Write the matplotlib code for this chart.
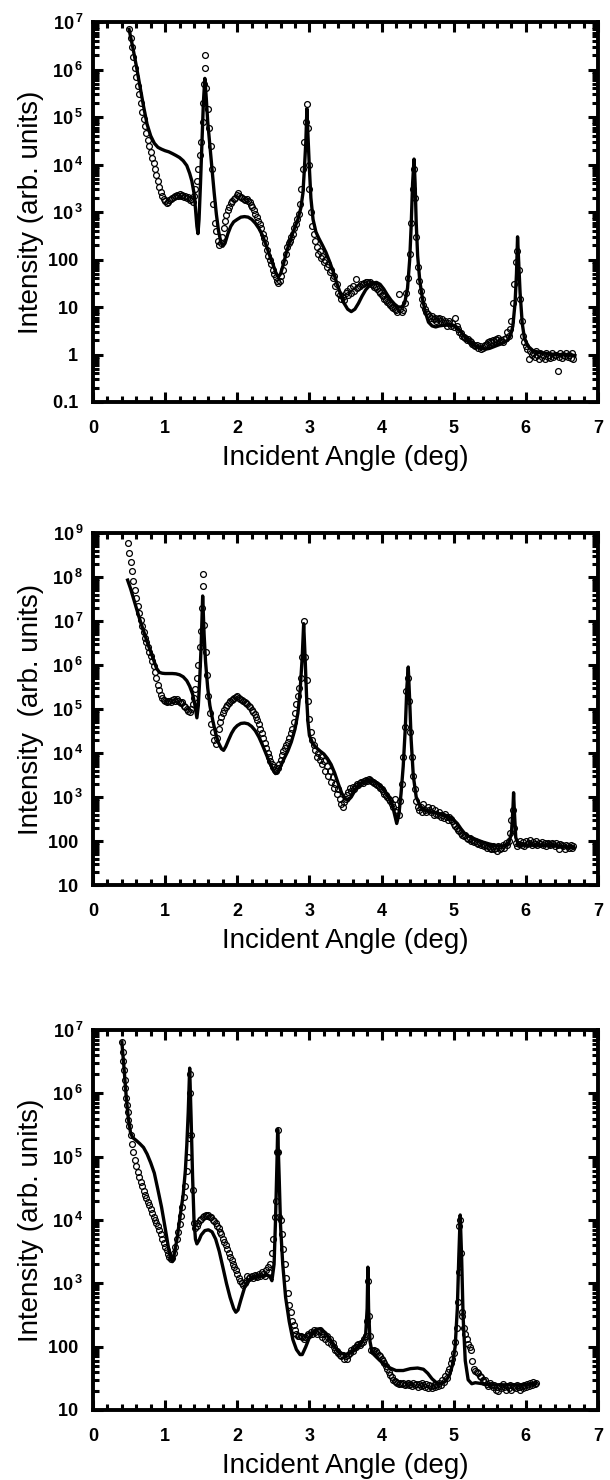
import matplotlib
matplotlib.use('Agg')
import matplotlib.pyplot as plt
from matplotlib.ticker import FixedLocator, FixedFormatter, MultipleLocator, LogLocator, NullFormatter

plt.rcParams['font.family'] = ['Liberation Sans', 'DejaVu Sans']
plt.rcParams['mathtext.fontset'] = 'custom'
plt.rcParams['mathtext.rm'] = 'Liberation Sans'
plt.rcParams['mathtext.bf'] = 'Liberation Sans:bold'

# (angle, intensity)
# ---------- top panel ----------
p1_exp = [
    (0.50, 7.0e6), (0.52, 4.5e6), (0.54, 3.0e6), (0.56, 1.8e6), (0.58, 1.1e6), (0.60, 7.0e5), (0.62, 4.5e5),
    (0.64, 3.0e5), (0.66, 2.0e5), (0.68, 1.3e5), (0.70, 9.0e4), (0.72, 6.5e4), (0.74, 4.6e4), (0.76, 3.3e4),
    (0.78, 2.4e4), (0.80, 1.8e4), (0.82, 1.4e4), (0.84, 1.05e4), (0.86, 8.0e3), (0.88, 6.0e3), (0.90, 4.5e3),
    (0.92, 3.4e3), (0.94, 2.7e3), (0.96, 2.2e3), (0.98, 1.9e3), (1.00, 1.7e3), (1.02, 1.55e3), (1.04, 1.6e3),
    (1.06, 1.75e3), (1.08, 1.9e3), (1.10, 2.0e3), (1.12, 2.1e3), (1.14, 2.2e3), (1.16, 2.3e3), (1.18, 2.2e3),
    (1.20, 2.35e3), (1.22, 2.2e3), (1.24, 2.3e3), (1.26, 2.1e3), (1.28, 2.2e3), (1.30, 2.0e3), (1.32, 2.1e3),
    (1.34, 1.8e3), (1.36, 1.9e3), (1.38, 1.6e3), (1.40, 2.2e3), (1.42, 3.0e3), (1.44, 4.5e3), (1.46, 8.0e3),
    (1.48, 1.6e4), (1.50, 3.0e4), (1.52, 8.0e4), (1.53, 2.0e5), (1.54, 5.0e5), (1.55, 2.0e6), (1.55, 1.1e6),
    (1.57, 4.0e5), (1.59, 1.5e5), (1.61, 6.0e4), (1.63, 2.5e4), (1.65, 8.0e3), (1.67, 1.5e3), (1.69, 6.0e2),
    (1.71, 4.0e2), (1.73, 2.5e2), (1.75, 2.0e2), (1.77, 2.2e2), (1.79, 3.0e2), (1.81, 4.5e2), (1.83, 6.5e2),
    (1.85, 8.5e2), (1.87, 1.1e3), (1.89, 1.3e3), (1.91, 1.55e3), (1.93, 1.7e3), (1.95, 1.9e3), (1.97, 2.0e3),
    (1.99, 2.3e3), (2.01, 2.5e3), (2.03, 2.2e3), (2.05, 2.1e3), (2.07, 2.0e3), (2.09, 1.9e3), (2.11, 1.8e3),
    (2.13, 1.85e3), (2.15, 1.7e3), (2.17, 1.6e3), (2.19, 1.4e3), (2.21, 1.3e3), (2.23, 1.1e3), (2.25, 9.0e2),
    (2.27, 8.0e2), (2.29, 6.5e2), (2.31, 5.5e2), (2.33, 4.5e2), (2.35, 3.5e2), (2.37, 2.8e2), (2.39, 2.2e2),
    (2.41, 1.6e2), (2.43, 1.2e2), (2.45, 1.0e2), (2.47, 8.0e1), (2.49, 6.0e1), (2.51, 5.0e1), (2.53, 4.2e1),
    (2.55, 3.5e1), (2.57, 3.2e1), (2.59, 3.5e1), (2.61, 4.5e1), (2.63, 6.0e1), (2.65, 9.0e1), (2.67, 1.3e2),
    (2.69, 1.8e2), (2.71, 2.2e2), (2.73, 2.5e2), (2.75, 3.0e2), (2.77, 3.5e2), (2.79, 4.5e2), (2.81, 5.5e2),
    (2.83, 7.0e2), (2.85, 9.0e2), (2.87, 1.5e3), (2.89, 3.0e3), (2.91, 8.0e3), (2.93, 3.0e4), (2.95, 8.0e4),
    (2.97, 1.9e5), (2.98, 6.0e4), (2.99, 1.0e4), (3.00, 3.0e3), (3.02, 1.0e3), (3.04, 5.0e2), (3.06, 3.5e2),
    (3.08, 2.5e2), (3.10, 1.8e2), (3.12, 1.3e2), (3.14, 1.5e2), (3.16, 1.1e2), (3.18, 1.2e2), (3.20, 9.0e1),
    (3.22, 1.0e2), (3.24, 7.0e1), (3.26, 8.0e1), (3.28, 5.5e1), (3.30, 6.0e1), (3.32, 4.0e1), (3.34, 4.5e1),
    (3.36, 2.8e1), (3.38, 3.0e1), (3.40, 2.0e1), (3.42, 1.8e1), (3.44, 1.5e1), (3.46, 1.6e1), (3.48, 1.4e1),
    (3.50, 2.0e1), (3.52, 2.2e1), (3.54, 1.8e1), (3.56, 2.5e1), (3.58, 2.0e1), (3.60, 2.8e1), (3.62, 2.2e1),
    (3.64, 3.8e1), (3.66, 2.5e1), (3.68, 2.6e1), (3.70, 2.8e1), (3.72, 3.0e1), (3.74, 3.1e1), (3.76, 3.2e1),
    (3.78, 3.4e1), (3.80, 3.3e1), (3.82, 3.2e1), (3.84, 3.3e1), (3.86, 3.0e1), (3.88, 2.9e1), (3.90, 2.7e1),
    (3.92, 2.6e1), (3.94, 2.4e1), (3.96, 2.2e1), (3.98, 2.0e1), (4.00, 1.8e1), (4.02, 1.7e1), (4.04, 1.5e1),
    (4.06, 1.4e1), (4.08, 1.3e1), (4.10, 1.2e1), (4.12, 1.1e1), (4.14, 1.0e1), (4.16, 9.5), (4.18, 9.0),
    (4.20, 8.5), (4.22, 8.0), (4.24, 1.9e1), (4.26, 9.0), (4.28, 8.0), (4.30, 8.5), (4.32, 1.2e1),
    (4.34, 2.0e1), (4.37, 4.0e1), (4.39, 1.3e2), (4.41, 6.0e2), (4.43, 3.0e3), (4.45, 8.0e3), (4.46, 2.0e3),
    (4.48, 3.0e2), (4.50, 7.0e1), (4.52, 3.5e1), (4.54, 2.2e1), (4.56, 1.5e1), (4.58, 1.1e1), (4.60, 9.0),
    (4.62, 8.0), (4.64, 7.0), (4.66, 6.5), (4.68, 6.0), (4.70, 6.5), (4.72, 5.5), (4.74, 6.0), (4.76, 5.0),
    (4.78, 5.5), (4.80, 6.0), (4.82, 5.0), (4.84, 5.5), (4.86, 4.5), (4.88, 5.0), (4.90, 4.0), (4.92, 4.5),
    (4.94, 5.0), (4.96, 4.0), (4.98, 4.5), (5.00, 3.8), (5.02, 6.0), (5.04, 4.0), (5.06, 3.5), (5.08, 3.0),
    (5.10, 2.8), (5.12, 2.5), (5.14, 2.3), (5.16, 2.2), (5.18, 2.0), (5.20, 2.1), (5.22, 1.9), (5.24, 1.8),
    (5.26, 1.7), (5.28, 1.6), (5.30, 1.5), (5.32, 1.6), (5.34, 1.4), (5.36, 1.5), (5.38, 1.3), (5.40, 1.4),
    (5.42, 1.5), (5.44, 1.6), (5.46, 1.7), (5.48, 1.8), (5.50, 1.9), (5.52, 1.8), (5.54, 2.0), (5.56, 1.9),
    (5.58, 2.1), (5.60, 2.0), (5.62, 2.2), (5.64, 1.9), (5.66, 2.0), (5.68, 1.8), (5.70, 2.1), (5.72, 2.2),
    (5.74, 3.0), (5.76, 2.5), (5.78, 3.5), (5.80, 5.0), (5.82, 1.2e1), (5.84, 3.0e1), (5.86, 9.0e1),
    (5.88, 1.5e2), (5.90, 6.0e1), (5.92, 1.5e1), (5.94, 5.0), (5.96, 2.5), (5.98, 1.8), (6.00, 1.5),
    (6.02, 1.3), (6.04, 0.8), (6.06, 1.2), (6.08, 1.0), (6.10, 1.1), (6.12, 0.9), (6.14, 1.2), (6.16, 1.0),
    (6.18, 0.8), (6.20, 1.1), (6.22, 0.9), (6.24, 1.0), (6.26, 0.8), (6.28, 1.1), (6.30, 0.9), (6.32, 1.0),
    (6.34, 0.85), (6.36, 1.1), (6.38, 0.9), (6.40, 1.0), (6.44, 0.45), (6.42, 1.0), (6.46, 0.9), (6.48, 1.1),
    (6.50, 0.85), (6.52, 1.0), (6.54, 0.95), (6.56, 1.1), (6.58, 0.9), (6.60, 1.0), (6.62, 0.85), (6.64, 1.05),
    (6.66, 0.8),
]
p1_fit = [
    (0.50, 7.0e6), (0.55, 3.0e6), (0.60, 1.2e6), (0.65, 4.5e5), (0.70, 1.7e5), (0.75, 7.0e4), (0.80, 4.0e4),
    (0.85, 2.8e4), (0.90, 2.3e4), (0.95, 2.1e4), (1.00, 1.95e4), (1.05, 1.85e4), (1.10, 1.7e4), (1.15, 1.55e4),
    (1.20, 1.4e4), (1.25, 1.2e4), (1.30, 9.5e3), (1.34, 6.5e3), (1.37, 4.5e3), (1.40, 2.5e3), (1.42, 1.2e3),
    (1.44, 5.0e2), (1.455, 3.5e2), (1.47, 7.0e2), (1.49, 4.0e3), (1.51, 3.0e4), (1.53, 2.0e5), (1.55, 6.5e5),
    (1.57, 2.5e5), (1.59, 8.0e4), (1.62, 2.5e4), (1.65, 8.0e3), (1.68, 2.5e3), (1.71, 9.0e2), (1.74, 4.0e2),
    (1.77, 2.4e2), (1.80, 1.9e2), (1.83, 2.2e2), (1.87, 3.5e2), (1.91, 5.0e2), (1.95, 6.2e2), (2.00, 7.0e2),
    (2.05, 7.8e2), (2.10, 8.0e2), (2.15, 7.8e2), (2.20, 7.0e2), (2.25, 5.8e2), (2.30, 4.5e2), (2.35, 3.2e2),
    (2.40, 2.0e2), (2.45, 1.2e2), (2.50, 7.5e1), (2.54, 5.0e1), (2.57, 4.3e1), (2.60, 5.0e1), (2.64, 8.0e1),
    (2.68, 1.4e2), (2.72, 2.2e2), (2.76, 3.3e2), (2.80, 4.8e2), (2.84, 7.0e2), (2.88, 1.2e3), (2.91, 2.5e3),
    (2.93, 8.0e3), (2.95, 3.0e4), (2.965, 1.5e5), (2.98, 4.0e4), (3.00, 8.0e3), (3.02, 2.0e3), (3.05, 7.0e2),
    (3.09, 3.8e2), (3.13, 2.8e2), (3.18, 2.0e2), (3.23, 1.4e2), (3.28, 9.0e1), (3.33, 5.5e1), (3.38, 3.2e1),
    (3.43, 1.9e1), (3.48, 1.2e1), (3.53, 9.0), (3.58, 8.0), (3.63, 9.0), (3.68, 1.2e1), (3.73, 1.7e1),
    (3.78, 2.3e1), (3.83, 2.8e1), (3.88, 3.2e1), (3.93, 3.3e1), (3.98, 3.0e1), (4.03, 2.4e1), (4.08, 1.8e1),
    (4.13, 1.4e1), (4.18, 1.15e1), (4.23, 1.0e1), (4.28, 1.0e1), (4.32, 1.2e1), (4.36, 2.5e1), (4.39, 1.0e2),
    (4.41, 5.0e2), (4.43, 4.0e3), (4.45, 1.3e4), (4.465, 4.0e3), (4.48, 6.0e2), (4.50, 1.2e2), (4.53, 3.5e1),
    (4.57, 1.4e1), (4.61, 7.5), (4.65, 4.8), (4.70, 4.0), (4.75, 3.8), (4.80, 4.0), (4.85, 4.1), (4.90, 4.2),
    (4.95, 4.2), (5.00, 4.0), (5.05, 3.6), (5.10, 3.0), (5.15, 2.4), (5.20, 2.0), (5.25, 1.7), (5.30, 1.5),
    (5.35, 1.4), (5.40, 1.35), (5.45, 1.3), (5.50, 1.35), (5.55, 1.45), (5.60, 1.55), (5.65, 1.65), (5.70, 1.8),
    (5.75, 2.0), (5.79, 2.6), (5.82, 4.0), (5.85, 1.2e1), (5.87, 5.0e1), (5.885, 3.0e2), (5.90, 9.0e1),
    (5.92, 2.0e1), (5.95, 4.5), (5.98, 2.2), (6.03, 1.5), (6.10, 1.2), (6.20, 1.1), (6.30, 1.05), (6.40, 1.0),
    (6.50, 1.0), (6.60, 1.0), (6.68, 0.95),
]

# ---------- middle panel ----------
p2_exp = [
    (0.48, 5.9e8), (0.50, 3.5e8), (0.52, 2.2e8), (0.54, 1.4e8), (0.56, 8.0e7), (0.58, 5.0e7), (0.60, 3.3e7),
    (0.62, 2.2e7), (0.64, 1.5e7), (0.66, 1.05e7), (0.68, 7.5e6), (0.70, 5.5e6), (0.72, 4.2e6), (0.74, 3.3e6),
    (0.76, 2.6e6), (0.78, 2.0e6), (0.80, 1.6e6), (0.82, 1.25e6), (0.84, 9.5e5), (0.86, 7.0e5), (0.88, 5.0e5),
    (0.90, 3.6e5), (0.92, 2.7e5), (0.94, 2.1e5), (0.96, 1.8e5), (0.98, 1.6e5), (1.00, 1.5e5), (1.02, 1.45e5),
    (1.04, 1.5e5), (1.06, 1.55e5), (1.08, 1.45e5), (1.10, 1.6e5), (1.12, 1.7e5), (1.14, 1.55e5), (1.16, 1.65e5),
    (1.18, 1.5e5), (1.20, 1.45e5), (1.22, 1.35e5), (1.24, 1.45e5), (1.26, 1.2e5), (1.28, 1.1e5), (1.30, 1.0e5),
    (1.32, 9.0e4), (1.34, 8.5e4), (1.36, 1.0e5), (1.38, 1.3e5), (1.40, 1.8e5), (1.42, 2.8e5), (1.44, 5.0e5),
    (1.46, 1.0e6), (1.48, 2.5e6), (1.50, 6.0e6), (1.51, 2.0e7), (1.53, 1.2e8), (1.53, 6.3e7), (1.54, 8.0e6),
    (1.56, 2.0e6), (1.58, 6.0e5), (1.60, 2.0e5), (1.62, 8.0e4), (1.64, 4.5e4), (1.66, 3.0e4), (1.68, 2.0e4),
    (1.70, 1.6e4), (1.72, 2.2e4), (1.74, 3.5e4), (1.76, 5.0e4), (1.78, 6.5e4), (1.80, 8.0e4), (1.82, 9.5e4),
    (1.84, 1.1e5), (1.86, 1.25e5), (1.88, 1.4e5), (1.90, 1.5e5), (1.92, 1.6e5), (1.94, 1.7e5), (1.96, 1.8e5),
    (1.98, 1.9e5), (2.00, 2.0e5), (2.02, 1.8e5), (2.04, 1.7e5), (2.06, 1.6e5), (2.08, 1.5e5), (2.10, 1.45e5),
    (2.12, 1.35e5), (2.14, 1.3e5), (2.16, 1.2e5), (2.18, 1.1e5), (2.20, 9.5e4), (2.22, 8.5e4), (2.24, 7.5e4),
    (2.26, 6.5e4), (2.28, 5.5e4), (2.30, 4.5e4), (2.32, 3.6e4), (2.34, 2.8e4), (2.36, 2.2e4), (2.38, 1.7e4),
    (2.40, 1.3e4), (2.42, 1.0e4), (2.44, 8.0e3), (2.46, 6.5e3), (2.48, 5.5e3), (2.50, 4.8e3), (2.52, 4.2e3),
    (2.54, 4.0e3), (2.56, 4.5e3), (2.58, 5.5e3), (2.60, 7.0e3), (2.62, 9.0e3), (2.64, 1.1e4), (2.66, 1.3e4),
    (2.68, 1.5e4), (2.70, 1.8e4), (2.72, 2.2e4), (2.74, 2.8e4), (2.76, 3.5e4), (2.78, 5.0e4), (2.80, 8.0e4),
    (2.82, 1.3e5), (2.84, 2.0e5), (2.86, 3.0e5), (2.88, 5.0e5), (2.90, 1.5e6), (2.92, 1.0e7), (2.94, 1.5e6),
    (2.96, 4.5e5), (2.98, 1.5e5), (3.00, 6.0e4), (3.02, 3.0e4), (3.04, 2.0e4), (3.06, 1.5e4), (3.08, 1.2e4),
    (3.10, 8.0e3), (3.12, 1.0e4), (3.14, 7.0e3), (3.16, 8.5e3), (3.18, 5.5e3), (3.20, 6.5e3), (3.22, 4.0e3),
    (3.24, 5.0e3), (3.26, 3.0e3), (3.28, 4.0e3), (3.30, 2.2e3), (3.32, 2.8e3), (3.34, 1.6e3), (3.36, 2.0e3),
    (3.38, 1.2e3), (3.40, 1.5e3), (3.42, 9.0e2), (3.44, 7.0e2), (3.46, 6.0e2), (3.48, 7.5e2), (3.50, 9.0e2),
    (3.52, 1.1e3), (3.54, 1.3e3), (3.56, 1.6e3), (3.58, 1.4e3), (3.60, 1.7e3), (3.62, 1.5e3), (3.64, 1.8e3),
    (3.66, 2.0e3), (3.68, 1.9e3), (3.70, 2.1e3), (3.72, 2.2e3), (3.74, 2.1e3), (3.76, 2.3e3), (3.78, 2.4e3),
    (3.80, 2.3e3), (3.82, 2.5e3), (3.84, 2.4e3), (3.86, 2.3e3), (3.88, 2.2e3), (3.90, 2.1e3), (3.92, 2.0e3),
    (3.94, 1.9e3), (3.96, 1.8e3), (3.98, 1.6e3), (4.00, 1.5e3), (4.02, 1.4e3), (4.04, 1.2e3), (4.06, 1.1e3),
    (4.08, 1.0e3), (4.10, 9.0e2), (4.12, 8.0e2), (4.14, 7.0e2), (4.16, 6.0e2), (4.18, 9.0e2), (4.20, 4.5e2),
    (4.22, 5.0e2), (4.24, 4.0e2), (4.26, 8.0e2), (4.28, 2.0e3), (4.30, 8.0e3), (4.32, 4.0e4), (4.34, 2.5e5),
    (4.36, 5.0e5), (4.38, 1.5e5), (4.40, 3.0e4), (4.42, 8.0e3), (4.44, 3.0e3), (4.46, 1.5e3), (4.48, 8.0e2),
    (4.50, 6.0e2), (4.52, 5.0e2), (4.54, 6.0e2), (4.56, 4.5e2), (4.58, 7.0e2), (4.60, 5.0e2), (4.62, 4.5e2),
    (4.64, 6.0e2), (4.66, 5.0e2), (4.68, 4.5e2), (4.70, 5.5e2), (4.72, 4.0e2), (4.74, 5.0e2), (4.76, 4.2e2),
    (4.78, 3.8e2), (4.80, 4.5e2), (4.82, 3.5e2), (4.84, 4.0e2), (4.86, 3.3e2), (4.88, 4.2e2), (4.90, 3.5e2),
    (4.92, 3.0e2), (4.94, 3.6e2), (4.96, 3.2e2), (4.98, 2.8e2), (5.00, 2.4e2), (5.02, 2.2e2), (5.04, 2.0e2),
    (5.06, 1.8e2), (5.08, 1.7e2), (5.10, 1.5e2), (5.12, 1.4e2), (5.14, 1.3e2), (5.16, 1.4e2), (5.18, 1.2e2),
    (5.20, 1.1e2), (5.22, 1.15e2), (5.24, 1.0e2), (5.26, 1.05e2), (5.28, 9.5e1), (5.30, 1.0e2), (5.32, 9.0e1),
    (5.34, 8.5e1), (5.36, 9.0e1), (5.38, 8.0e1), (5.40, 8.5e1), (5.42, 7.5e1), (5.44, 8.0e1), (5.46, 7.0e1),
    (5.48, 7.5e1), (5.50, 7.0e1), (5.52, 6.5e1), (5.54, 7.5e1), (5.56, 6.5e1), (5.58, 7.0e1), (5.60, 6.0e1),
    (5.62, 7.5e1), (5.64, 6.5e1), (5.66, 7.0e1), (5.68, 8.0e1), (5.70, 7.0e1), (5.72, 9.0e1), (5.74, 8.0e1),
    (5.76, 1.0e2), (5.78, 1.5e2), (5.80, 3.0e2), (5.82, 5.0e2), (5.84, 2.0e2), (5.86, 9.0e1), (5.88, 7.5e1),
    (5.90, 8.5e1), (5.92, 1.0e2), (5.94, 8.0e1), (5.96, 9.5e1), (5.98, 7.5e1), (6.00, 1.0e2), (6.02, 8.5e1),
    (6.04, 9.0e1), (6.06, 1.05e2), (6.08, 8.0e1), (6.10, 9.5e1), (6.12, 8.5e1), (6.14, 1.0e2), (6.16, 8.0e1),
    (6.18, 9.0e1), (6.20, 8.5e1), (6.22, 9.5e1), (6.24, 8.0e1), (6.26, 9.0e1), (6.28, 7.5e1), (6.30, 9.0e1),
    (6.32, 8.5e1), (6.34, 8.0e1), (6.36, 9.0e1), (6.38, 8.5e1), (6.40, 7.5e1), (6.42, 9.0e1), (6.44, 8.0e1),
    (6.46, 6.5e1), (6.48, 8.5e1), (6.50, 8.0e1), (6.52, 7.5e1), (6.54, 6.5e1), (6.56, 8.0e1), (6.58, 7.5e1),
    (6.60, 7.0e1), (6.62, 8.0e1), (6.64, 7.0e1), (6.66, 7.5e1),
]
p2_fit = [
    (0.48, 8.5e7), (0.52, 5.5e7), (0.56, 3.3e7), (0.60, 2.0e7), (0.64, 1.2e7), (0.68, 7.5e6), (0.72, 4.8e6),
    (0.76, 3.0e6), (0.80, 2.0e6), (0.84, 1.3e6), (0.88, 8.5e5), (0.92, 6.8e5), (0.96, 6.5e5), (1.00, 6.4e5),
    (1.05, 6.4e5), (1.10, 6.4e5), (1.15, 6.3e5), (1.20, 6.0e5), (1.25, 5.4e5), (1.30, 4.4e5), (1.34, 3.3e5),
    (1.38, 2.2e5), (1.41, 1.3e5), (1.44, 6.3e4), (1.46, 1.2e5), (1.48, 5.0e5), (1.50, 3.0e6), (1.52, 3.7e7),
    (1.54, 5.0e6), (1.56, 1.2e6), (1.59, 3.0e5), (1.62, 1.2e5), (1.66, 5.5e4), (1.70, 2.8e4), (1.74, 1.7e4),
    (1.78, 1.25e4), (1.81, 1.15e4), (1.84, 1.4e4), (1.88, 2.0e4), (1.92, 2.8e4), (1.96, 3.6e4), (2.00, 4.2e4),
    (2.05, 4.7e4), (2.10, 4.8e4), (2.15, 4.6e4), (2.20, 4.0e4), (2.25, 3.2e4), (2.30, 2.3e4), (2.35, 1.5e4),
    (2.40, 9.5e3), (2.45, 6.0e3), (2.50, 4.0e3), (2.53, 3.4e3), (2.56, 3.6e3), (2.60, 5.0e3), (2.65, 7.5e3),
    (2.70, 1.1e4), (2.75, 1.8e4), (2.80, 3.5e4), (2.84, 8.0e4), (2.87, 2.5e5), (2.90, 1.5e6), (2.92, 8.7e6),
    (2.94, 1.5e6), (2.96, 2.0e5), (2.98, 5.0e4), (3.00, 2.5e4), (3.05, 1.6e4), (3.10, 1.3e4), (3.15, 1.1e4),
    (3.20, 9.5e3), (3.25, 7.5e3), (3.30, 5.5e3), (3.35, 3.5e3), (3.40, 2.0e3), (3.45, 1.2e3), (3.50, 9.0e2),
    (3.54, 8.5e2), (3.58, 1.0e3), (3.62, 1.3e3), (3.66, 1.7e3), (3.70, 2.0e3), (3.75, 2.2e3), (3.80, 2.4e3),
    (3.85, 2.4e3), (3.90, 2.3e3), (3.95, 2.0e3), (4.00, 1.7e3), (4.05, 1.35e3), (4.10, 1.0e3), (4.15, 6.5e2),
    (4.18, 4.0e2), (4.21, 2.5e2), (4.24, 4.0e2), (4.27, 1.2e3), (4.30, 5.0e3), (4.33, 4.0e4), (4.35, 3.0e5),
    (4.37, 9.0e5), (4.39, 1.5e5), (4.41, 2.0e4), (4.44, 3.0e3), (4.48, 1.0e3), (4.54, 6.0e2), (4.60, 5.0e2),
    (4.70, 4.5e2), (4.80, 4.2e2), (4.90, 3.8e2), (5.00, 3.0e2), (5.05, 2.5e2), (5.10, 1.9e2), (5.15, 1.5e2),
    (5.20, 1.3e2), (5.30, 1.1e2), (5.40, 9.5e1), (5.50, 8.5e1), (5.60, 7.8e1), (5.70, 7.8e1), (5.76, 8.5e1),
    (5.80, 1.5e2), (5.82, 5.0e2), (5.83, 1.25e3), (5.84, 5.0e2), (5.86, 1.2e2), (5.90, 8.0e1), (6.00, 8.0e1),
    (6.20, 8.0e1), (6.40, 7.8e1), (6.66, 7.2e1),
]

# ---------- bottom panel ----------
p3_exp = [
    (0.40, 6.5e6), (0.41, 4.5e6), (0.42, 3.2e6), (0.43, 2.3e6), (0.44, 1.6e6), (0.45, 1.2e6), (0.46, 8.5e5),
    (0.47, 6.5e5), (0.48, 5.0e5), (0.49, 3.8e5), (0.50, 3.0e5), (0.52, 2.2e5), (0.54, 1.6e5), (0.56, 1.2e5),
    (0.58, 9.0e4), (0.60, 7.0e4), (0.62, 5.8e4), (0.64, 4.8e4), (0.66, 4.0e4), (0.68, 3.4e4), (0.70, 2.9e4),
    (0.72, 2.5e4), (0.74, 2.2e4), (0.76, 1.9e4), (0.78, 1.7e4), (0.80, 1.5e4), (0.82, 1.3e4), (0.84, 1.1e4),
    (0.86, 1.0e4), (0.88, 9.0e3), (0.90, 8.0e3), (0.92, 7.0e3), (0.94, 6.0e3), (0.96, 5.0e3), (0.98, 4.3e3),
    (1.00, 3.8e3), (1.02, 3.3e3), (1.04, 2.9e3), (1.06, 2.6e3), (1.08, 2.4e3), (1.10, 2.5e3), (1.12, 3.0e3),
    (1.14, 3.8e3), (1.16, 5.0e3), (1.18, 6.5e3), (1.20, 8.5e3), (1.22, 1.15e4), (1.24, 1.6e4), (1.26, 2.3e4),
    (1.28, 3.5e4), (1.30, 6.0e4), (1.32, 1.0e5), (1.33, 2.0e5), (1.34, 1.0e6), (1.35, 2.0e6), (1.36, 2.2e5),
    (1.38, 3.0e4), (1.40, 9.0e3), (1.42, 7.5e3), (1.44, 8.0e3), (1.46, 9.0e3), (1.48, 1.0e4), (1.50, 1.05e4),
    (1.52, 1.1e4), (1.54, 1.15e4), (1.56, 1.2e4), (1.58, 1.15e4), (1.60, 1.2e4), (1.62, 1.1e4), (1.64, 1.1e4),
    (1.66, 1.0e4), (1.68, 9.5e3), (1.70, 9.0e3), (1.72, 8.0e3), (1.74, 7.5e3), (1.76, 6.5e3), (1.78, 6.0e3),
    (1.80, 5.0e3), (1.82, 4.5e3), (1.84, 4.0e3), (1.86, 3.5e3), (1.88, 3.0e3), (1.90, 2.6e3), (1.92, 2.3e3),
    (1.94, 2.0e3), (1.96, 1.8e3), (1.98, 1.6e3), (2.00, 1.4e3), (2.02, 1.2e3), (2.04, 1.1e3), (2.06, 1.0e3),
    (2.08, 9.5e2), (2.10, 1.0e3), (2.12, 1.1e3), (2.14, 1.3e3), (2.16, 1.2e3), (2.18, 1.25e3), (2.20, 1.3e3),
    (2.22, 1.2e3), (2.24, 1.35e3), (2.26, 1.3e3), (2.28, 1.25e3), (2.30, 1.4e3), (2.32, 1.3e3), (2.34, 1.5e3),
    (2.36, 1.4e3), (2.38, 1.3e3), (2.40, 1.6e3), (2.42, 1.8e3), (2.44, 1.5e3), (2.46, 2.0e3), (2.48, 3.0e3),
    (2.50, 5.0e3), (2.52, 1.1e4), (2.54, 2.0e4), (2.55, 1.2e5), (2.56, 2.6e5), (2.57, 1.2e5), (2.58, 1.1e4),
    (2.60, 1.0e4), (2.62, 6.0e3), (2.64, 3.5e3), (2.66, 2.0e3), (2.68, 1.2e3), (2.70, 7.0e2), (2.72, 4.5e2),
    (2.74, 3.5e2), (2.76, 2.5e2), (2.78, 2.2e2), (2.80, 1.8e2), (2.82, 1.6e2), (2.84, 1.5e2), (2.86, 1.45e2),
    (2.88, 1.5e2), (2.90, 1.4e2), (2.92, 1.3e2), (2.94, 1.4e2), (2.96, 1.5e2), (2.98, 1.6e2), (3.00, 1.55e2),
    (3.02, 1.7e2), (3.04, 1.6e2), (3.06, 1.8e2), (3.08, 1.7e2), (3.10, 1.6e2), (3.12, 1.75e2), (3.14, 1.8e2),
    (3.16, 1.6e2), (3.18, 1.4e2), (3.20, 1.6e2), (3.22, 1.3e2), (3.24, 1.45e2), (3.26, 1.2e2), (3.28, 1.3e2),
    (3.30, 1.1e2), (3.32, 1.15e2), (3.34, 1.0e2), (3.36, 9.0e1), (3.38, 8.5e1), (3.40, 8.0e1), (3.42, 7.5e1),
    (3.44, 7.0e1), (3.46, 7.5e1), (3.48, 6.5e1), (3.50, 7.0e1), (3.52, 6.5e1), (3.54, 7.5e1), (3.56, 8.0e1),
    (3.58, 9.0e1), (3.60, 8.5e1), (3.62, 9.5e1), (3.64, 1.0e2), (3.66, 1.05e2), (3.68, 1.1e2), (3.70, 1.05e2),
    (3.72, 1.15e2), (3.74, 1.2e2), (3.76, 1.3e2), (3.78, 1.5e2), (3.80, 2.5e2), (3.81, 1.1e3), (3.82, 3.0e2),
    (3.84, 1.5e2), (3.86, 9.0e1), (3.88, 8.5e1), (3.90, 9.0e1), (3.92, 8.5e1), (3.94, 8.0e1), (3.96, 7.5e1),
    (3.98, 7.0e1), (4.00, 6.5e1), (4.02, 6.0e1), (4.04, 5.5e1), (4.06, 5.0e1), (4.08, 4.5e1), (4.10, 4.0e1),
    (4.12, 3.6e1), (4.14, 3.3e1), (4.16, 3.0e1), (4.18, 2.9e1), (4.20, 2.8e1), (4.22, 2.7e1), (4.24, 2.6e1),
    (4.26, 2.7e1), (4.28, 2.6e1), (4.30, 2.7e1), (4.32, 2.5e1), (4.34, 2.6e1), (4.36, 2.7e1), (4.38, 2.5e1),
    (4.40, 2.6e1), (4.42, 2.4e1), (4.44, 2.7e1), (4.46, 2.5e1), (4.48, 2.6e1), (4.50, 2.3e1), (4.52, 2.6e1),
    (4.54, 2.4e1), (4.56, 2.7e1), (4.58, 2.5e1), (4.60, 2.3e1), (4.62, 2.6e1), (4.64, 2.2e1), (4.66, 2.5e1),
    (4.68, 2.4e1), (4.70, 2.2e1), (4.72, 2.5e1), (4.74, 2.3e1), (4.76, 2.6e1), (4.78, 2.4e1), (4.80, 2.7e1),
    (4.82, 2.5e1), (4.84, 3.0e1), (4.86, 2.8e1), (4.88, 3.5e1), (4.90, 3.2e1), (4.92, 4.0e1), (4.94, 4.5e1),
    (4.96, 5.5e1), (4.98, 6.5e1), (5.00, 8.0e1), (5.02, 1.2e2), (5.04, 2.0e2), (5.06, 5.0e2), (5.07, 1.5e3),
    (5.08, 8.0e3), (5.09, 1.0e4), (5.10, 3.0e3), (5.11, 3.5e2), (5.12, 3.0e2), (5.14, 2.0e2), (5.16, 1.6e2),
    (5.18, 1.3e2), (5.20, 1.1e2), (5.22, 1.0e2), (5.24, 9.0e1), (5.26, 6.0e1), (5.28, 4.5e1), (5.30, 4.2e1),
    (5.32, 4.0e1), (5.34, 3.8e1), (5.36, 3.5e1), (5.38, 3.3e1), (5.40, 3.0e1), (5.42, 2.8e1), (5.44, 3.0e1),
    (5.46, 2.6e1), (5.48, 2.4e1), (5.50, 2.7e1), (5.52, 2.5e1), (5.54, 2.3e1), (5.56, 2.5e1), (5.58, 2.1e1),
    (5.60, 2.3e1), (5.62, 2.0e1), (5.64, 2.4e1), (5.66, 2.2e1), (5.68, 2.6e1), (5.70, 2.3e1), (5.72, 2.1e1),
    (5.74, 2.4e1), (5.76, 2.2e1), (5.78, 2.5e1), (5.80, 2.1e1), (5.82, 2.4e1), (5.84, 2.3e1), (5.86, 2.2e1),
    (5.88, 2.5e1), (5.90, 2.3e1), (5.92, 2.1e1), (5.94, 2.4e1), (5.96, 2.2e1), (5.98, 2.5e1), (6.00, 2.3e1),
    (6.02, 2.6e1), (6.04, 2.4e1), (6.06, 2.7e1), (6.08, 2.5e1), (6.10, 2.8e1), (6.12, 2.6e1), (6.14, 2.7e1),
]
p3_fit = [
    (0.40, 6.5e6), (0.43, 2.5e6), (0.46, 9.0e5), (0.49, 4.0e5), (0.52, 2.4e5), (0.55, 2.0e5), (0.60, 1.8e5),
    (0.65, 1.6e5), (0.70, 1.4e5), (0.75, 1.1e5), (0.80, 8.0e4), (0.85, 5.5e4), (0.90, 3.0e4), (0.95, 1.6e4),
    (1.00, 7.5e3), (1.04, 4.0e3), (1.07, 2.6e3), (1.10, 2.2e3), (1.13, 3.0e3), (1.17, 5.5e3), (1.21, 1.2e4),
    (1.25, 2.5e4), (1.28, 6.0e4), (1.30, 1.5e5), (1.32, 5.0e5), (1.34, 2.5e6), (1.36, 4.0e5), (1.38, 5.0e4),
    (1.40, 1.0e4), (1.42, 5.0e3), (1.44, 4.2e3), (1.47, 4.8e3), (1.50, 5.8e3), (1.55, 6.8e3), (1.60, 7.0e3),
    (1.65, 6.5e3), (1.70, 5.0e3), (1.75, 3.2e3), (1.80, 1.8e3), (1.85, 1.0e3), (1.90, 6.0e2), (1.95, 4.0e2),
    (1.98, 3.5e2), (2.01, 3.8e2), (2.05, 5.5e2), (2.10, 8.5e2), (2.15, 1.1e3), (2.20, 1.2e3), (2.25, 1.25e3),
    (2.30, 1.3e3), (2.35, 1.3e3), (2.40, 1.35e3), (2.45, 1.3e3), (2.48, 1.1e3), (2.51, 2.0e3), (2.53, 1.0e4),
    (2.55, 8.0e4), (2.56, 2.7e5), (2.58, 5.0e4), (2.60, 8.0e3), (2.63, 2.0e3), (2.67, 6.0e2), (2.72, 2.5e2),
    (2.77, 1.3e2), (2.82, 9.0e1), (2.87, 7.5e1), (2.90, 7.5e1), (2.95, 1.0e2), (3.00, 1.4e2), (3.05, 1.7e2),
    (3.10, 1.9e2), (3.15, 1.9e2), (3.20, 1.75e2), (3.25, 1.5e2), (3.30, 1.25e2), (3.35, 1.0e2), (3.40, 8.5e1),
    (3.45, 7.8e1), (3.50, 7.5e1), (3.55, 7.8e1), (3.60, 8.5e1), (3.65, 9.5e1), (3.70, 1.1e2), (3.75, 1.3e2),
    (3.78, 1.6e2), (3.80, 4.0e2), (3.81, 1.8e3), (3.82, 4.0e2), (3.84, 1.2e2), (3.87, 8.0e1), (3.92, 7.0e1),
    (3.98, 6.0e1), (4.05, 5.2e1), (4.12, 4.6e1), (4.20, 4.2e1), (4.30, 4.2e1), (4.40, 4.5e1), (4.50, 4.6e1),
    (4.58, 4.4e1), (4.64, 3.8e1), (4.70, 3.1e1), (4.76, 2.7e1), (4.82, 2.6e1), (4.88, 2.8e1), (4.94, 3.5e1),
    (4.98, 5.0e1), (5.02, 1.0e2), (5.05, 4.0e2), (5.07, 2.5e3), (5.09, 1.2e4), (5.11, 2.5e3), (5.13, 3.0e2),
    (5.16, 6.0e1), (5.20, 3.0e1), (5.25, 2.6e1), (5.30, 2.7e1), (5.40, 2.6e1), (5.50, 2.5e1), (5.70, 2.5e1),
    (5.90, 2.5e1), (6.14, 2.6e1),
]

# axis ticks and labels
x_ticks = [0, 1, 2, 3, 4, 5, 6, 7]
x_labels = ['0', '1', '2', '3', '4', '5', '6', '7']
p1_yticks = [0.1, 1, 10, 100, 1e3, 1e4, 1e5, 1e6, 1e7]
p1_ylabels = ['0.1 ', '1 ', '10 ', '100 ', r'$\mathbf{10^{\,3}}$', r'$\mathbf{10^{\,4}}$', r'$\mathbf{10^{\,5}}$',
              r'$\mathbf{10^{\,6}}$', r'$\mathbf{10^{\,7}}$']
p2_yticks = [10, 100, 1e3, 1e4, 1e5, 1e6, 1e7, 1e8, 1e9]
p2_ylabels = ['10 ', '100 ', r'$\mathbf{10^{\,3}}$', r'$\mathbf{10^{\,4}}$', r'$\mathbf{10^{\,5}}$', r'$\mathbf{10^{\,6}}$',
              r'$\mathbf{10^{\,7}}$', r'$\mathbf{10^{\,8}}$', r'$\mathbf{10^{\,9}}$']
p3_yticks = [10, 100, 1e3, 1e4, 1e5, 1e6, 1e7]
p3_ylabels = ['10 ', '100 ', r'$\mathbf{10^{\,3}}$', r'$\mathbf{10^{\,4}}$', r'$\mathbf{10^{\,5}}$', r'$\mathbf{10^{\,6}}$',
              r'$\mathbf{10^{\,7}}$']

W, H = 610, 1480
fig = plt.figure(figsize=(W / 100, H / 100), dpi=100)


def panel(top, bottom, exp, fit, yticks, ylabels, ylab):
    left, right = 93, 598
    ax = fig.add_axes([left / W, 1 - bottom / H, (right - left) / W, (bottom - top) / H])
    ex, ey = zip(*exp)
    fx, fy = zip(*fit)
    ax.plot(ex, ey, 'o', ms=4.2, mfc='none', mec='black', mew=0.9, zorder=2)
    ax.plot(fx, fy, '-', color='black', lw=2.4, zorder=3)
    ax.set_yscale('log')
    ax.set_xlim(0, 7)
    ax.set_ylim(yticks[0], yticks[-1])
    ax.xaxis.set_major_locator(FixedLocator(x_ticks))
    ax.xaxis.set_major_formatter(FixedFormatter(x_labels))
    ax.xaxis.set_minor_locator(MultipleLocator(0.2))
    ax.yaxis.set_major_locator(FixedLocator(yticks))
    ax.yaxis.set_major_formatter(FixedFormatter(ylabels))
    ax.yaxis.set_minor_locator(LogLocator(base=10, subs=range(2, 10), numticks=20))
    ax.yaxis.set_minor_formatter(NullFormatter())
    ax.tick_params(which='both', direction='in', top=True, right=True, width=2.2)
    ax.tick_params(which='major', length=7.5)
    ax.tick_params(which='minor', length=4)
    ax.tick_params(axis='x', which='major', pad=13)
    ax.tick_params(axis='y', which='major', pad=7)
    for lab in ax.get_xticklabels() + ax.get_yticklabels():
        lab.set_fontweight('bold')
        lab.set_fontsize(13)
    for sp in ax.spines.values():
        sp.set_linewidth(2.8)
    h = bottom - top
    ax.set_xlabel('Incident Angle (deg)', fontsize=20, va='center')
    ax.xaxis.set_label_coords(0.5, -56 / h)
    ax.set_ylabel(ylab, fontsize=20, va='center')
    ax.yaxis.set_label_coords((31 - left) / (right - left), 0.5)
    return ax


panel(22, 402, p1_exp, p1_fit, p1_yticks, p1_ylabels, 'Intensity (arb. units)')
panel(533, 885, p2_exp, p2_fit, p2_yticks, p2_ylabels, 'Intensity  (arb. units)')
panel(1030, 1410, p3_exp, p3_fit, p3_yticks, p3_ylabels, 'Intensity (arb. units)')

fig.savefig('out.png', dpi=100)
